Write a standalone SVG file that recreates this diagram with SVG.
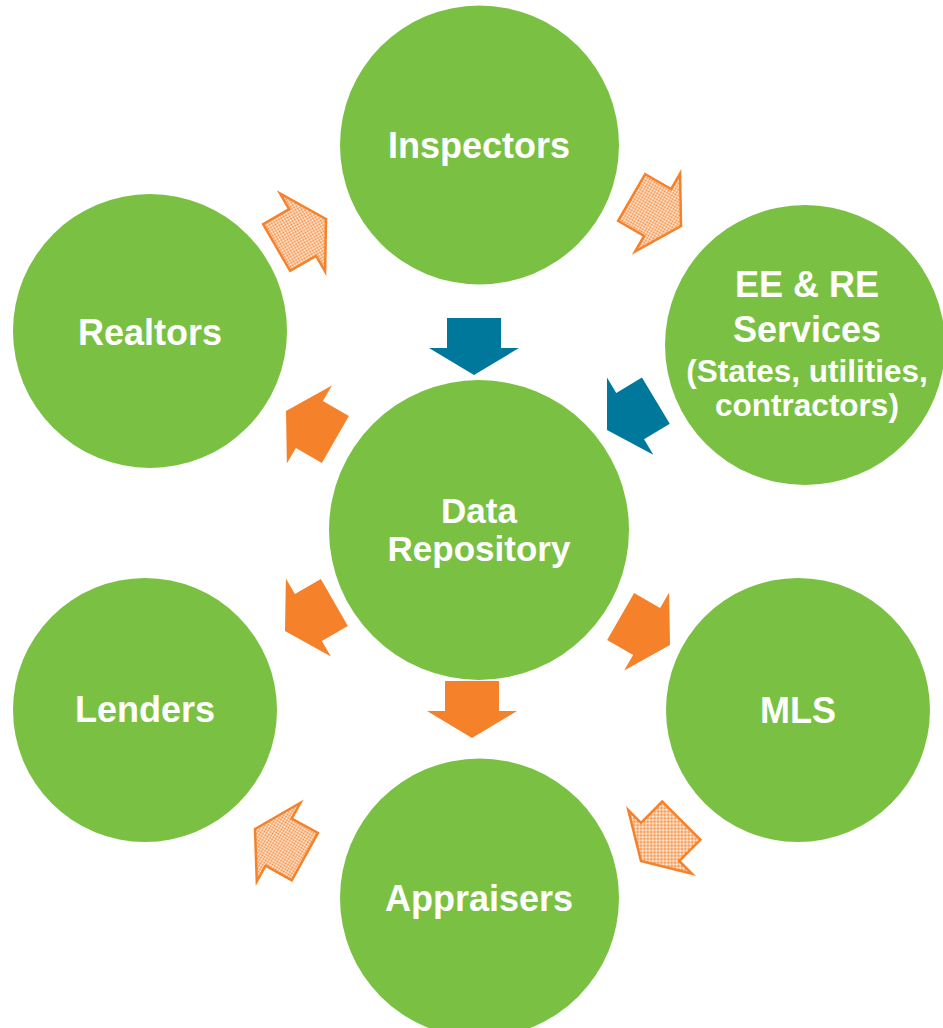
<svg xmlns="http://www.w3.org/2000/svg" width="943" height="1028" viewBox="0 0 943 1028">
  <defs>
    <style>
      .node { fill: #7AC143; }
      .label { fill: #FFFFFF; font-family: "Liberation Sans", Arial, sans-serif; font-weight: bold; text-anchor: middle; font-size: 36px; }
      .mid { font-size: 35px; }
      .small { font-size: 31.5px; }
      .flow-blue { fill: #00789C; }
      .flow-orange { fill: #F5822A; }
      .flow-hatch { fill: url(#checker); stroke: #F5822A; stroke-width: 2.5; stroke-linejoin: miter; }
    </style>
    <!-- fine orange/white checkerboard used for the dotted arrows -->
    <pattern id="checker" width="2" height="2" patternUnits="userSpaceOnUse">
      <rect width="2" height="2" fill="#FFFFFF"/>
      <rect x="0" y="0" width="1" height="1" fill="#F5822A"/>
      <rect x="1" y="1" width="1" height="1" fill="#F5822A"/>
    </pattern>
    <!-- block arrow pointing along +x, tip at the origin -->
    <path id="block-arrow" d="M0,0 L-27,-45 L-27,-27 L-57,-27 L-57,27 L-27,27 L-27,45 Z"/>
  </defs>

  <rect width="943" height="1028" fill="#FFFFFF"/>

  <g id="node-inspectors">
    <circle class="node" cx="479.5" cy="145" r="139.5"/>
    <text class="label" x="479" y="158">Inspectors</text>
  </g>

  <g id="node-ee-re-services">
    <circle class="node" cx="805" cy="345" r="140"/>
    <text class="label" x="807" y="297">EE &amp; RE</text>
    <text class="label" x="807" y="342">Services</text>
    <text class="label small" x="807" y="382">(States, utilities,</text>
    <text class="label small" x="807" y="416">contractors)</text>
  </g>

  <g id="node-realtors">
    <circle class="node" cx="150" cy="331" r="137"/>
    <text class="label" x="150" y="345">Realtors</text>
  </g>

  <g id="node-data-repository">
    <circle class="node" cx="479" cy="530" r="150"/>
    <text class="label mid" x="479" y="523">Data</text>
    <text class="label mid" x="479" y="561">Repository</text>
  </g>

  <g id="node-lenders">
    <circle class="node" cx="145" cy="710" r="132"/>
    <text class="label" x="145" y="722">Lenders</text>
  </g>

  <g id="node-mls">
    <circle class="node" cx="798" cy="710" r="132"/>
    <text class="label" x="798" y="723">MLS</text>
  </g>

  <g id="node-appraisers">
    <circle class="node" cx="479.5" cy="898" r="139.5"/>
    <text class="label" x="479" y="911">Appraisers</text>
  </g>

  <g id="connectors">
    <!-- inputs into the repository -->
    <use href="#block-arrow" class="flow-blue" transform="translate(474,375) rotate(90)"/>
    <use href="#block-arrow" class="flow-blue" transform="translate(607,430) rotate(149)"/>
    <!-- outputs from the repository -->
    <use href="#block-arrow" class="flow-orange" transform="translate(286,411) rotate(210)"/>
    <use href="#block-arrow" class="flow-orange" transform="translate(285,631) rotate(150)"/>
    <use href="#block-arrow" class="flow-orange" transform="translate(670,645) rotate(30)"/>
    <use href="#block-arrow" class="flow-orange" transform="translate(472,738) rotate(90)"/>
    <!-- outer ring -->
    <use href="#block-arrow" class="flow-hatch" transform="translate(326,219) rotate(-30)"/>
    <use href="#block-arrow" class="flow-hatch" transform="translate(681,226) rotate(30)"/>
    <use href="#block-arrow" class="flow-hatch" transform="translate(641,861) rotate(135)"/>
    <use href="#block-arrow" class="flow-hatch" transform="translate(255,829) rotate(209)"/>
  </g>
</svg>
